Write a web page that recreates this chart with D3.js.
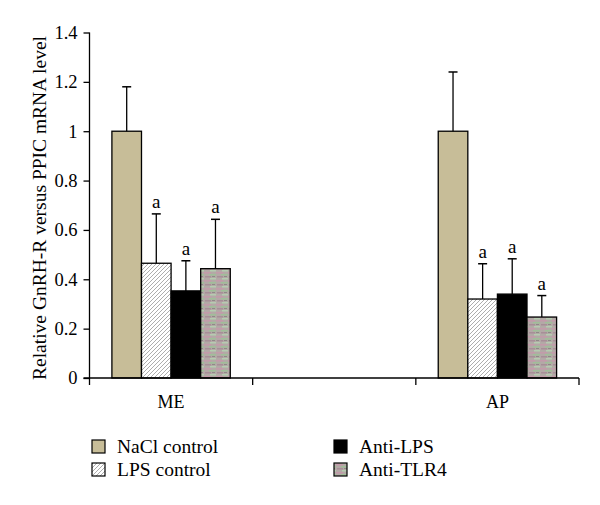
<!DOCTYPE html>
<html><head><meta charset="utf-8">
<script src="https://cdn.jsdelivr.net/npm/d3@7"></script>
<style>body{margin:0;background:#fff}svg{display:block}</style>
</head><body>
<script>
const categories = ["ME", "", "AP"];
const series = ["NaCl control", "LPS control", "Anti-LPS", "Anti-TLR4"];
const means = {
  "NaCl control": [1.0, null, 1.0],
  "LPS control": [0.465, null, 0.32],
  "Anti-LPS": [0.353, null, 0.34],
  "Anti-TLR4": [0.443, null, 0.247]
};
const errors = {
  "NaCl control": [0.18, null, 0.24],
  "LPS control": [0.2, null, 0.143],
  "Anti-LPS": [0.122, null, 0.143],
  "Anti-TLR4": [0.2, null, 0.087]
};
const sigLabels = {
  "NaCl control": ["", null, ""],
  "LPS control": ["a", null, "a"],
  "Anti-LPS": ["a", null, "a"],
  "Anti-TLR4": ["a", null, "a"]
};
const yTicks = [0, 0.2, 0.4, 0.6, 0.8, 1.0, 1.2, 1.4];
const yTickLabels = ["0", "0.2", "0.4", "0.6", "0.8", "1", "1.2", "1.4"];
const yTitle = "Relative GnRH-R versus PPIC mRNA level";

const W = 600, H = 505;
const serif = "Liberation Serif, Times New Roman, serif";
const svg = d3.select("body").append("svg").attr("width", W).attr("height", H);
const defs = svg.append("defs");

// patterns
const hatch = defs.append("pattern").attr("id", "hatch").attr("patternUnits", "userSpaceOnUse")
  .attr("width", 4).attr("height", 4);
hatch.append("rect").attr("width", 4).attr("height", 4).attr("fill", "#fff");
hatch.append("path").attr("d", "M-1,1 L1,-1 M0,4 L4,0 M3,5 L5,3").attr("stroke", "#8a8a8a").attr("stroke-width", 0.7);

const tex = defs.append("pattern").attr("id", "tex").attr("patternUnits", "userSpaceOnUse")
  .attr("width", 12).attr("height", 8);
tex.append("rect").attr("width", 12).attr("height", 8).attr("fill", "#b3a9a6");
tex.append("rect").attr("x", 0).attr("y", 0).attr("width", 7).attr("height", 1.5).attr("fill", "#c49aaa");
tex.append("rect").attr("x", 5).attr("y", 2).attr("width", 7).attr("height", 1.5).attr("fill", "#9fbf98");
tex.append("rect").attr("x", 1).attr("y", 4).attr("width", 6).attr("height", 1.5).attr("fill", "#a88e98");
tex.append("rect").attr("x", 6).attr("y", 6).attr("width", 6).attr("height", 1.5).attr("fill", "#b5ccb0");
tex.append("rect").attr("x", 8).attr("y", 4).attr("width", 3).attr("height", 1).attr("fill", "#8f8a88");

const fills = {
  "NaCl control": "#c7bd98",
  "LPS control": "url(#hatch)",
  "Anti-LPS": "#000",
  "Anti-TLR4": "url(#tex)"
};

const x0 = 89.5, x1 = 579, y0 = 378, y1 = 32.5;
const x = d3.scaleBand().domain(d3.range(categories.length)).range([x0, x1]).padding(0);
const gap = 22.4;
const xs = d3.scaleBand().domain(series).range([gap, x.bandwidth() - gap]).padding(0);
const y = d3.scaleLinear().domain([0, 1.4]).range([y0, y1]);

// bars
series.forEach(s => {
  categories.forEach((c, i) => {
    const v = means[s][i];
    if (v == null) return;
    const bx = x(i) + xs(s);
    svg.append("rect").attr("x", bx).attr("y", y(v)).attr("width", xs.bandwidth()).attr("height", y(0) - y(v))
      .attr("fill", fills[s]).attr("stroke", "#000").attr("stroke-width", 1.3);
    const e = errors[s][i];
    const cx = bx + xs.bandwidth() / 2;
    svg.append("line").attr("x1", cx).attr("x2", cx).attr("y1", y(v)).attr("y2", y(v + e)).attr("stroke", "#000").attr("stroke-width", 1.3);
    svg.append("line").attr("x1", cx - 4.5).attr("x2", cx + 4.5).attr("y1", y(v + e)).attr("y2", y(v + e)).attr("stroke", "#000").attr("stroke-width", 1.5);
    const lab = sigLabels[s][i];
    if (lab) {
      svg.append("text").attr("x", cx).attr("y", y(v + e) - 6).attr("text-anchor", "middle")
        .style("font-family", serif).style("font-size", "19px").attr("fill", "#000").text(lab);
    }
  });
});

// y axis
const yAxis = d3.axisLeft(y).tickValues(yTicks).tickSize(6).tickPadding(6)
  .tickFormat((d, i) => yTickLabels[i]);
const gy = svg.append("g").attr("transform", `translate(${x0},0)`).call(yAxis);
gy.attr("font-family", null).attr("font-size", null);
gy.select(".domain").attr("d", `M0,${y1}V${y0}`).attr("stroke", "#000").attr("stroke-width", 1.3);
gy.selectAll(".tick line").attr("stroke", "#000").attr("stroke-width", 1.3);
gy.selectAll(".tick text").style("font-family", serif).style("font-size", "18.5px").attr("fill", "#000");

// x axis
const gx = svg.append("g").attr("transform", `translate(0,${y0})`);
gx.append("line").attr("x1", x0 - 6).attr("x2", x1).attr("y1", 0).attr("y2", 0).attr("stroke", "#000").attr("stroke-width", 1.3);
const bounds = d3.range(categories.length + 1).map(i => i < categories.length ? x(i) : x1);
gx.selectAll("line.tk").data(bounds).enter().append("line").attr("class", "tk")
  .attr("x1", d => d).attr("x2", d => d).attr("y1", 0).attr("y2", 7).attr("stroke", "#000").attr("stroke-width", 1.3);
gx.selectAll("text").data(categories).enter().append("text")
  .attr("x", (d, i) => x(i) + x.bandwidth() / 2).attr("y", 30).attr("text-anchor", "middle")
  .style("font-family", serif).style("font-size", "18px").attr("fill", "#000").text(d => d);

// y title
svg.append("text").attr("transform", `translate(46,208) rotate(-90)`).attr("text-anchor", "middle")
  .style("font-family", serif).style("font-size", "19.5px").attr("fill", "#000").text(yTitle);

// legend
const legPos = [[92, 440], [92, 463], [334, 440], [334, 463]];
series.forEach((s, i) => {
  const [lx, ly] = legPos[i];
  svg.append("rect").attr("x", lx).attr("y", ly).attr("width", 13).attr("height", 13)
    .attr("fill", fills[s]).attr("stroke", "#000").attr("stroke-width", 1.2);
  svg.append("text").attr("x", lx + 25).attr("y", ly + 13).style("font-family", serif).style("font-size", "19.5px")
    .attr("fill", "#000").text(s);
});
</script>
</body></html>
